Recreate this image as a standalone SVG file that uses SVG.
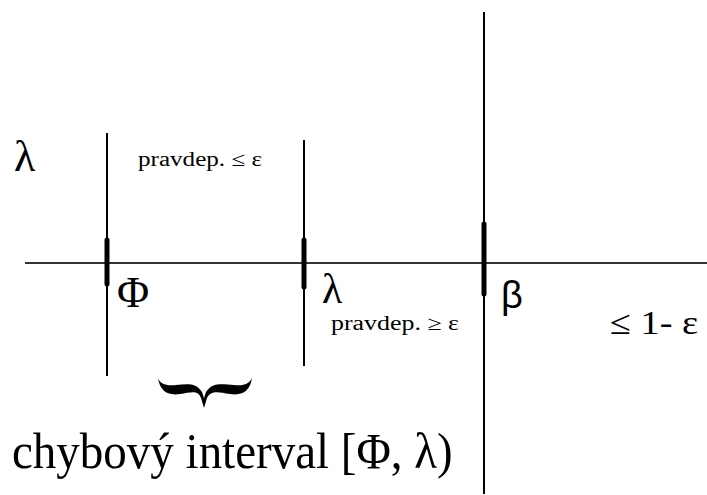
<svg xmlns="http://www.w3.org/2000/svg" width="707" height="495" viewBox="0 0 707 495">
<style>
.ln{stroke:#000;stroke-width:2;fill:none}
.hl{stroke:#333;stroke-width:2;fill:none}
.tk{stroke:#000;stroke-width:5;stroke-linecap:round;fill:none}
.s{font-family:"Liberation Serif",serif;fill:#000}
.ss{font-family:"Liberation Sans",sans-serif;fill:#000}
</style>
<rect width="707" height="495" fill="#fff"/>
<g id="connectors">
<line class="hl" x1="25" y1="263" x2="707" y2="263"/>
<line class="ln" x1="107" y1="133" x2="107" y2="376"/>
<line class="tk" x1="107" y1="240" x2="107" y2="284"/>
<line class="ln" x1="304" y1="140" x2="304" y2="366"/>
<line class="tk" x1="304" y1="240" x2="304" y2="287"/>
<line class="ln" x1="484" y1="12" x2="484" y2="494"/>
<line class="tk" x1="484" y1="224" x2="484" y2="294"/>
</g>
<g id="lambda-top"><text class="s" x="14" y="171" font-size="44">λ</text></g>
<g id="prob-le"><text class="s" x="138" y="166" font-size="20" textLength="124" lengthAdjust="spacingAndGlyphs">pravdep. ≤ ε</text></g>
<g id="phi"><text class="s" x="117" y="307" font-size="44">Φ</text></g>
<g id="lambda"><text class="s" x="322" y="303" font-size="42">λ</text></g>
<g id="prob-ge"><text class="s" x="331" y="330" font-size="20" textLength="128" lengthAdjust="spacingAndGlyphs">pravdep. ≥ ε</text></g>
<g id="beta"><text class="ss" x="501" y="308" font-size="38">β</text></g>
<g id="le-one"><text class="s" x="610" y="334" font-size="34" textLength="88" lengthAdjust="spacingAndGlyphs">≤ 1- ε</text></g>
<g id="brace"><path fill="#000" d="M158,378 C160,390 166,396 180,394 C192,392 198,390 201,398 L204,408 L207,398 C211,390 218,392 230,394 C244,396 250,390 252,378 C249,384 244,386 234,385 C222,384 212,382 206,392 L204,398 L202,392 C196,382 186,384 176,385 C166,386 160,384 158,378 Z"/></g>
<g id="label"><text class="s" x="12" y="468" font-size="47" transform="translate(0,468) scale(1,1.08) translate(0,-468)">chybový interval [Φ, λ)</text></g>
</svg>
